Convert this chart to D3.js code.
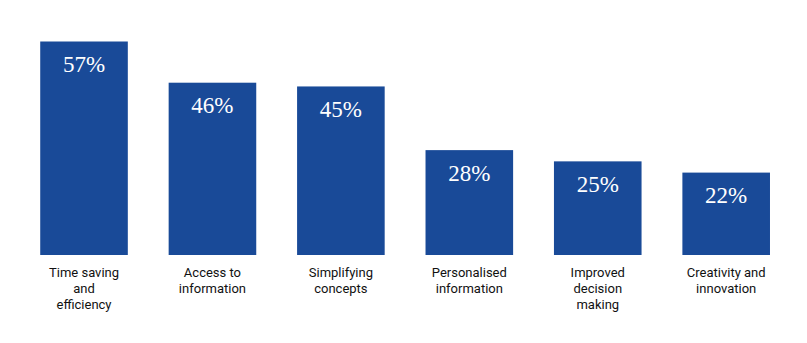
<!DOCTYPE html>
<html>
<head>
<meta charset="utf-8">
<script src="https://cdn.jsdelivr.net/npm/d3@7"></script>
<style>
  html, body { margin: 0; padding: 0; background: #ffffff; }
  svg { display: block; }
</style>
</head>
<body>
<svg id="chart" width="807" height="343"></svg>
<script>
// Benefits reported (share of respondents)
const categories = [
  ["Time saving", "and", "efficiency"],
  ["Access to", "information"],
  ["Simplifying", "concepts"],
  ["Personalised", "information"],
  ["Improved", "decision", "making"],
  ["Creativity and", "innovation"]
];
const values = [57, 46, 45, 28, 25, 22];
const valueLabels = ["57%", "46%", "45%", "28%", "25%", "22%"];

const svg = d3.select("#chart");
const baseY = 255;

const x = d3.scaleBand()
  .domain(d3.range(categories.length))
  .range([19.8, 790.4])
  .paddingInner(0.318)
  .paddingOuter(0.159);

const y = d3.scaleLinear()
  .domain([0, 57])
  .range([baseY, 41.5]);

const bars = svg.append("g");
bars.selectAll("rect")
  .data(values)
  .join("rect")
  .attr("x", (d, i) => x(i))
  .attr("y", d => y(d))
  .attr("width", x.bandwidth())
  .attr("height", d => baseY - y(d))
  .attr("fill", "#194a98");

// value labels inside the top of each bar
bars.selectAll("text")
  .data(values)
  .join("text")
  .attr("x", (d, i) => x(i) + x.bandwidth() / 2)
  .attr("y", d => y(d) + 30.5)
  .attr("text-anchor", "middle")
  .attr("fill", "#ffffff")
  .style("font-family", "'Liberation Serif', 'DejaVu Serif', serif")
  .style("font-size", "23px")
  .text((d, i) => valueLabels[i]);

// category labels under the bars
const axis = d3.axisBottom(x).tickSize(0).tickFormat("");
const axisG = svg.append("g")
  .attr("transform", `translate(0,${baseY})`)
  .call(axis);
axisG.select(".domain").remove();

axisG.selectAll(".tick").each(function(i) {
  const t = d3.select(this).append("text")
    .attr("text-anchor", "middle")
    .attr("fill", "#111111")
    .style("font-family", "Roboto, 'Noto Sans', sans-serif")
    .style("font-size", "13px");
  categories[i].forEach((line, k) => {
    t.append("tspan")
      .attr("x", 0)
      .attr("y", 22 + k * 16)
      .text(line);
  });
});
</script>
</body>
</html>
